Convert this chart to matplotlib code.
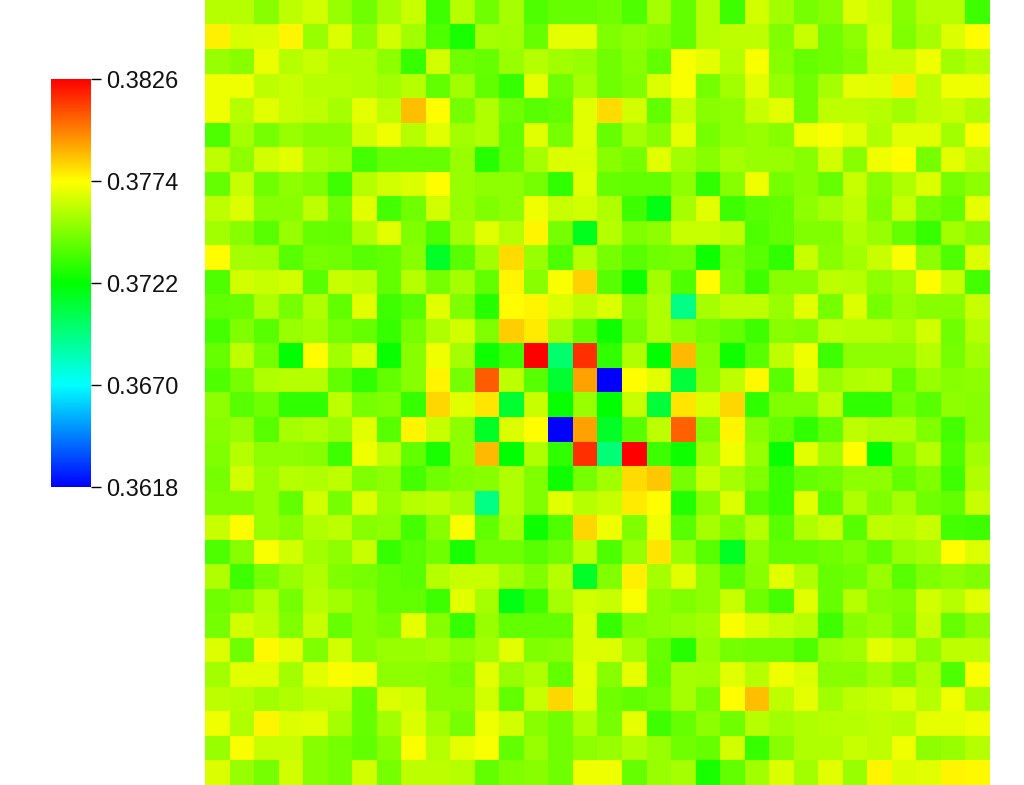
import numpy as np
import matplotlib
matplotlib.use("Agg")
import matplotlib.pyplot as plt
from matplotlib.colors import LinearSegmentedColormap

tick_values = [0.3618, 0.3670, 0.3722, 0.3774, 0.3826]
tick_labels = ["0.3618", "0.3670", "0.3722", "0.3774", "0.3826"]

# cell values, in units of 1e-4, top row first
r00 = [3759,3759,3750,3761,3765,3753,3745,3756,3763,3735,3759,3745,3756,3738,3743,3743,3745,3738,3756,3742,3759,3735,3765,3755,3746,3750,3767,3763,3750,3759,3759,3735]
r01 = [3777,3766,3767,3776,3753,3767,3751,3765,3755,3738,3727,3756,3755,3743,3769,3769,3748,3751,3748,3742,3759,3761,3761,3748,3763,3745,3751,3765,3748,3756,3767,3774]
r02 = [3753,3750,3770,3759,3763,3758,3758,3751,3733,3765,3745,3743,3753,3759,3755,3753,3745,3750,3742,3773,3769,3759,3773,3750,3743,3745,3748,3763,3763,3771,3755,3759]
r03 = [3771,3771,3761,3763,3759,3759,3758,3755,3759,3742,3755,3742,3733,3769,3745,3756,3745,3748,3767,3773,3746,3755,3768,3753,3745,3756,3769,3768,3778,3761,3771,3771]
r04 = [3771,3759,3768,3763,3761,3756,3769,3761,3787,3774,3746,3758,3745,3740,3742,3768,3781,3765,3742,3763,3750,3751,3763,3768,3745,3761,3761,3759,3755,3761,3763,3758]
r05 = [3738,3756,3746,3753,3750,3750,3765,3771,3759,3768,3755,3758,3742,3768,3746,3768,3743,3756,3750,3769,3746,3751,3753,3750,3771,3773,3768,3758,3768,3768,3755,3773]
r06 = [3761,3751,3765,3768,3756,3753,3736,3743,3743,3743,3753,3730,3743,3756,3767,3767,3750,3746,3768,3755,3750,3756,3753,3753,3750,3765,3750,3771,3774,3746,3768,3761]
r07 = [3743,3763,3745,3751,3748,3735,3759,3765,3767,3774,3753,3751,3751,3746,3732,3768,3743,3742,3742,3751,3732,3750,3771,3746,3750,3743,3763,3750,3758,3767,3746,3751]
r08 = [3761,3767,3750,3750,3761,3745,3768,3736,3745,3765,3753,3748,3751,3771,3763,3765,3758,3735,3718,3756,3768,3735,3740,3742,3751,3756,3761,3748,3763,3746,3742,3769]
r09 = [3755,3750,3740,3753,3743,3742,3758,3768,3748,3738,3755,3768,3759,3776,3746,3716,3759,3748,3751,3763,3763,3761,3738,3742,3748,3748,3758,3753,3743,3733,3755,3750]
r10 = [3774,3756,3755,3740,3746,3745,3740,3742,3750,3714,3740,3755,3781,3753,3738,3759,3746,3740,3745,3746,3725,3746,3740,3732,3763,3750,3755,3763,3773,3751,3738,3767]
r11 = [3738,3765,3763,3765,3740,3763,3761,3742,3759,3746,3756,3742,3776,3750,3773,3783,3740,3725,3755,3738,3774,3748,3735,3750,3750,3761,3759,3751,3755,3774,3763,3736]
r12 = [3742,3743,3758,3746,3758,3742,3768,3735,3740,3768,3748,3730,3774,3776,3767,3761,3767,3750,3758,3695,3756,3761,3761,3753,3768,3746,3767,3746,3753,3750,3750,3763]
r13 = [3736,3748,3740,3753,3755,3746,3743,3733,3746,3758,3765,3748,3784,3778,3756,3743,3725,3746,3758,3751,3746,3743,3735,3750,3748,3761,3759,3759,3756,3765,3745,3759]
r14 = [3743,3761,3746,3722,3774,3755,3767,3724,3750,3771,3756,3725,3735,3826,3700,3816,3732,3758,3722,3788,3750,3725,3740,3761,3771,3735,3751,3751,3751,3759,3746,3755]
r15 = [3738,3746,3758,3759,3759,3742,3732,3742,3750,3776,3746,3807,3761,3740,3712,3793,3618,3774,3768,3710,3751,3761,3775,3740,3768,3753,3758,3759,3742,3753,3750,3751]
r16 = [3751,3740,3745,3732,3732,3761,3746,3748,3733,3782,3768,3779,3712,3763,3724,3753,3722,3763,3710,3779,3767,3782,3732,3748,3748,3761,3732,3732,3746,3740,3751,3750]
r17 = [3750,3753,3740,3756,3758,3753,3768,3740,3776,3763,3751,3714,3767,3774,3618,3793,3714,3740,3761,3806,3748,3776,3750,3742,3732,3742,3761,3758,3758,3748,3736,3750]
r18 = [3748,3759,3751,3751,3750,3735,3771,3761,3742,3727,3751,3788,3722,3758,3732,3816,3698,3826,3735,3725,3755,3771,3753,3724,3768,3755,3774,3722,3748,3759,3738,3755]
r19 = [3746,3765,3753,3759,3758,3761,3748,3751,3736,3745,3748,3750,3758,3748,3725,3746,3755,3781,3785,3746,3763,3756,3748,3733,3743,3745,3751,3751,3742,3748,3735,3758]
r20 = [3748,3748,3753,3742,3765,3746,3767,3753,3759,3761,3756,3695,3758,3748,3768,3759,3763,3778,3774,3729,3750,3767,3740,3733,3768,3740,3758,3748,3756,3745,3742,3763]
r21 = [3763,3774,3753,3750,3758,3761,3750,3751,3736,3750,3773,3742,3755,3725,3738,3782,3771,3748,3771,3740,3756,3748,3759,3740,3758,3763,3740,3761,3759,3763,3736,3735]
r22 = [3738,3750,3773,3765,3755,3751,3763,3733,3740,3745,3727,3745,3745,3740,3745,3761,3738,3753,3779,3753,3740,3715,3751,3742,3742,3745,3748,3742,3753,3756,3774,3767]
r23 = [3758,3735,3746,3753,3758,3748,3746,3742,3740,3759,3763,3763,3755,3748,3759,3714,3748,3777,3756,3768,3751,3740,3750,3768,3758,3743,3745,3753,3740,3748,3751,3748]
r24 = [3745,3748,3759,3746,3759,3755,3750,3742,3742,3735,3768,3756,3718,3735,3756,3765,3763,3773,3751,3748,3751,3763,3745,3736,3768,3743,3759,3750,3748,3765,3759,3768]
r25 = [3746,3765,3761,3748,3763,3743,3750,3746,3769,3750,3733,3753,3742,3742,3742,3767,3733,3748,3751,3753,3755,3773,3767,3763,3759,3735,3750,3753,3746,3763,3743,3751]
r26 = [3767,3745,3775,3769,3748,3765,3750,3753,3753,3755,3751,3755,3768,3748,3750,3767,3767,3756,3743,3730,3753,3746,3745,3745,3738,3753,3755,3768,3763,3751,3761,3761]
r27 = [3755,3768,3768,3755,3768,3773,3771,3751,3751,3750,3746,3768,3753,3758,3742,3769,3750,3769,3742,3756,3755,3768,3759,3771,3767,3750,3750,3755,3748,3758,3738,3773]
r28 = [3761,3759,3755,3758,3761,3761,3743,3767,3765,3750,3750,3765,3742,3763,3782,3768,3745,3742,3745,3756,3746,3774,3787,3761,3769,3755,3761,3763,3767,3759,3771,3756]
r29 = [3771,3758,3776,3767,3768,3756,3743,3755,3767,3755,3746,3771,3765,3750,3745,3758,3746,3769,3735,3743,3751,3745,3759,3755,3758,3759,3759,3761,3759,3769,3769,3771]
r30 = [3753,3773,3763,3763,3750,3746,3742,3750,3773,3759,3769,3773,3742,3753,3745,3751,3753,3758,3753,3745,3743,3765,3733,3750,3758,3758,3763,3761,3771,3751,3753,3759]
r31 = [3767,3753,3746,3765,3750,3746,3765,3746,3761,3761,3759,3742,3748,3750,3745,3771,3771,3743,3753,3756,3727,3742,3755,3767,3755,3768,3753,3776,3767,3768,3776,3775]

rows = [r00,r01,r02,r03,r04,r05,r06,r07,r08,r09,r10,r11,r12,r13,r14,r15,
        r16,r17,r18,r19,r20,r21,r22,r23,r24,r25,r26,r27,r28,r29,r30,r31]
Z = np.array(rows) / 1e4

cmap = LinearSegmentedColormap.from_list(
    "rainbow_desat",
    ["#0000ff", "#00ffff", "#00ff00", "#ffff00", "#ff0000"], N=512)

W, H = 1024, 785
fig = plt.figure(figsize=(W / 100, H / 100), dpi=100, facecolor="white")

ax = fig.add_axes([205 / W, 0, 785 / W, 1])
im = ax.imshow(Z, cmap=cmap, vmin=tick_values[0], vmax=tick_values[-1],
               interpolation="nearest", aspect="auto")
ax.axis("off")

cax = fig.add_axes([51 / W, 1 - 487 / H, 40 / W, 408 / H])
cb = fig.colorbar(im, cax=cax)
cb.outline.set_visible(False)
cb.set_ticks(tick_values)
cb.set_ticklabels(tick_labels)
cb.ax.tick_params(length=7.2, width=1.0, pad=4, color="black")
for lab in cb.ax.get_yticklabels():
    lab.set_fontfamily("Liberation Sans")
    lab.set_fontsize(17)
    lab.set_color("#111111")

fig.savefig("out.png", dpi=100)
